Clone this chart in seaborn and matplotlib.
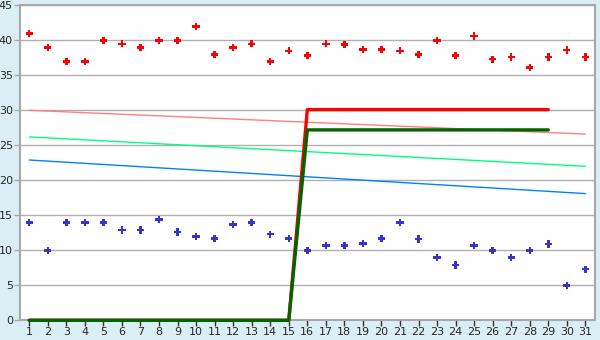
import matplotlib
matplotlib.use("Agg")
import matplotlib.pyplot as plt
import seaborn as sns
import pandas as pd

days = list(range(1, 32))
upper_points = [41, 39, 37, 37, 40, 39.5, 39, 40, 40, 42,
                38, 39, 39.5, 37, 38.5, 37.8, 39.5, 39.4, 38.7, 38.7,
                38.5, 38, 40, 37.8, 40.6, 37.3, 37.6, 36.1, 37.6, 38.6, 37.6]
lower_points = [14, 10, 14, 14, 14, 12.9, 12.9, 14.4, 12.6, 12,
                11.7, 13.7, 14, 12.3, 11.7, 10, 10.7, 10.7, 11, 11.7,
                14, 11.6, 9, 7.9, 10.7, 10, 9, 10, 10.9, 5, 7.3]

trend_x = [1, 31]
pink_trend = [30.0, 26.6]
green_trend = [26.2, 22.0]
blue_trend = [22.9, 18.1]

step_x = [1, 15, 16, 29]
red_step = [0, 0, 30.1, 30.1]
green_step = [0, 0, 27.2, 27.2]

yticks = list(range(0, 50, 5))

sns.set_theme(style="white")
plt.rcParams['font.family'] = ['DejaVu Sans']

fig = plt.figure(figsize=(6, 3.4), dpi=100)
fig.patch.set_facecolor('#daeff5')
ax = fig.add_axes([20/600, 19.7/340, 575/600, 315/340])
ax.set_facecolor('white')

for y in yticks:
    ax.axhline(y, color='#b0b0b0', lw=1.0, zorder=0)

lines_df = pd.DataFrame({'x': trend_x, 'pink': pink_trend, 'green': green_trend, 'blue': blue_trend})
sns.lineplot(data=lines_df, x='x', y='pink', color='#ff8080', lw=1.0, ax=ax)
sns.lineplot(data=lines_df, x='x', y='green', color='#00ff80', lw=1.0, ax=ax)
sns.lineplot(data=lines_df, x='x', y='blue', color='#0080ff', lw=1.0, ax=ax)

step_df = pd.DataFrame({'x': step_x, 'red': red_step, 'green': green_step})
sns.lineplot(data=step_df, x='x', y='red', color='#ff0000', lw=2.4, ax=ax, zorder=6, clip_on=False)
sns.lineplot(data=step_df, x='x', y='green', color='#006400', lw=2.4, ax=ax, zorder=7, clip_on=False)

pts = pd.DataFrame({'day': days, 'upper': upper_points, 'lower': lower_points})
sns.scatterplot(data=pts, x='day', y='upper', marker='P', s=28, color='#ff0000', edgecolor='none', linewidth=0, ax=ax, zorder=8)
sns.scatterplot(data=pts, x='day', y='lower', marker='P', s=28, color='#3535cc', edgecolor='none', linewidth=0, ax=ax, zorder=8)

ax.set_xlim(0.5, 31.52)
ax.set_ylim(0, 45)
ax.set_xticks(days)
ax.set_xticklabels([str(d) for d in days])
ax.set_yticks(yticks)
ax.set_yticklabels([str(y) for y in yticks])
ax.set_xlabel('')
ax.set_ylabel('')
for s in ax.spines.values():
    s.set_color('#a8a8a8')
    s.set_linewidth(1.5)
ax.tick_params(axis='x', length=4, width=1, color='#303030', labelsize=8, pad=1, direction='out', bottom=True)
ax.tick_params(axis='y', length=4, width=1, color='#a8a8a8', labelsize=8, pad=1, direction='out', left=True)

fig.savefig('out.png', dpi=100, facecolor=fig.get_facecolor())
